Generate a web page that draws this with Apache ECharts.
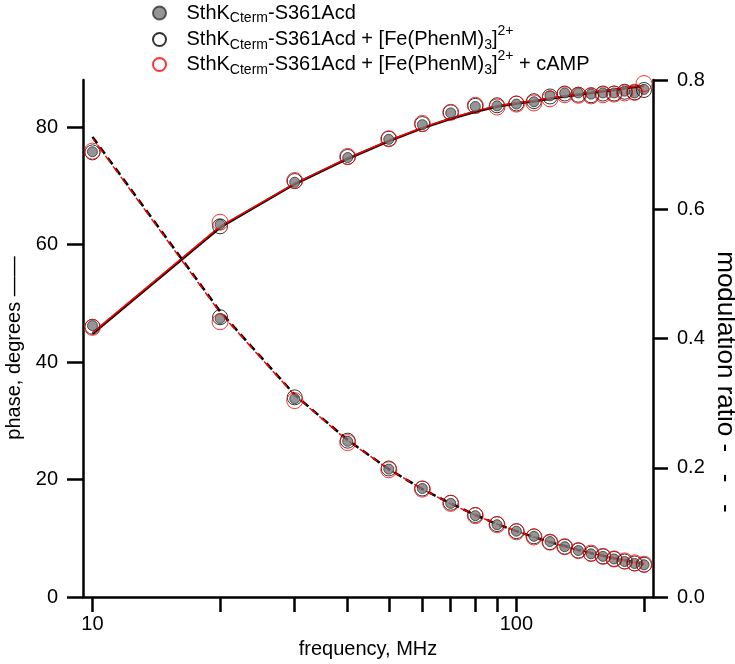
<!DOCTYPE html>
<html><head><meta charset="utf-8">
<script src="https://cdn.jsdelivr.net/npm/echarts@6/dist/echarts.min.js"></script>
<style>html,body{margin:0;padding:0;background:#fff}#c{width:735px;height:664px}</style>
</head><body><div id="c"></div>
<script>
// frequencies (MHz)
const freq = [10,20,30,40,50,60,70,80,90,100,110,120,130,140,150,160,170,180,190,200];
// phase (degrees)
const phaseGray  = [46.2,63.4,70.6,74.8,77.9,80.4,82.4,83.5,83.6,83.9,84.3,85.3,85.8,85.8,85.6,85.8,85.8,86.1,85.8,86.4];
const phaseBlack = [46.0,63.1,70.8,74.9,78.0,80.5,82.5,83.6,83.7,84.0,84.4,85.2,85.7,85.5,85.4,85.7,85.7,86.0,85.9,86.3];
const phaseRed   = [45.9,63.8,70.9,75.0,78.0,80.6,82.5,83.7,83.4,83.9,84.1,84.8,85.5,85.4,85.3,85.5,85.6,85.8,85.9,87.4];
// modulation ratio
const modGray  = [0.689,0.431,0.307,0.241,0.198,0.168,0.145,0.126,0.112,0.102,0.094,0.086,0.078,0.072,0.067,0.063,0.059,0.055,0.052,0.050];
const modBlack = [0.688,0.433,0.309,0.242,0.199,0.168,0.146,0.127,0.113,0.102,0.094,0.085,0.078,0.072,0.067,0.063,0.059,0.055,0.052,0.050];
const modRed   = [0.690,0.426,0.304,0.239,0.197,0.167,0.145,0.126,0.112,0.101,0.093,0.085,0.078,0.072,0.068,0.063,0.059,0.056,0.053,0.051];
// fitted curves
const phaseFitBlack = [44.8,62.9,70.3,74.6,77.6,79.8,81.4,82.6,83.5,84.0,84.4,84.8,85.2,85.5,85.8,86.1,86.3,86.6,86.8,87.0];
const phaseFitRed   = [45.0,63.1,70.4,74.7,77.7,79.9,81.5,82.7,83.6,84.1,84.5,84.9,85.3,85.6,85.9,86.2,86.4,86.7,86.9,87.1];
const modFitBlack = [0.712,0.442,0.313,0.243,0.198,0.167,0.145,0.127,0.113,0.102,0.093,0.085,0.079,0.073,0.068,0.064,0.060,0.057,0.054,0.051];
const modFitRed   = [0.710,0.440,0.312,0.242,0.198,0.167,0.144,0.127,0.113,0.102,0.093,0.085,0.078,0.073,0.068,0.064,0.060,0.057,0.054,0.051];
// ticks
const xTicks = [10,20,30,40,50,60,70,80,90,100,200];
const xLabels = [10,100];
const leftTicks = [0,20,40,60,80];
const rightTicks = [0,0.2,0.4,0.6,0.8];

const names = ['gray','black','red'];
const legendText = {
  gray: '{n|SthK}{s|Cterm}{n|-S361Acd}',
  black: '{n|SthK}{s|Cterm}{n|-S361Acd + [Fe(PhenM)}{s|3}{n|]}{p|2+}',
  red: '{n|SthK}{s|Cterm}{n|-S361Acd + [Fe(PhenM)}{s|3}{n|]}{p|2+}{n| + cAMP}'
};
const FONT = 'Liberation Sans';
const FS = 20;
const rich = {
  n: {fontSize: FS, fontFamily: FONT, color: '#000'},
  s: {fontSize: 14, fontFamily: FONT, color: '#000', padding: [11,0,0,0]},
  p: {fontSize: 14, fontFamily: FONT, color: '#000', padding: [0,0,17,0]}
};
const zip = (a) => freq.map((f,i) => [f, a[i]]);

const styles = {
  gray: {symbolSize: 10, itemStyle: {color: '#7a7a7a', borderColor: '#333', borderWidth: 1}},
  black: {symbolSize: 15, itemStyle: {color: 'rgba(255,255,255,0)', borderColor: '#000', borderWidth: 1}},
  red: {symbolSize: 16, itemStyle: {color: 'rgba(255,255,255,0)', borderColor: '#ff0000', borderWidth: 1}}
};
const scat = (name, data, yIdx, z) => Object.assign({
  type: 'scatter', name, data: zip(data), yAxisIndex: yIdx, symbol: 'circle', z
}, styles[name]);
const line = (data, yIdx, color, width, dash, offset) => ({
  type: 'line', data: zip(data), yAxisIndex: yIdx, showSymbol: false, symbol: 'none', silent: true, z: 2,
  lineStyle: {color, width, type: dash ? [8,5] : 'solid', dashOffset: offset || 0}
});

const legends = names.map((nm, i) => ({
  data: [{name: nm, icon: 'circle'}],
  left: 152, top: [3, 24, 49][i], padding: 0,
  itemWidth: 44, itemHeight: 13,
  formatter: (n) => legendText[n],
  textStyle: {rich, fontSize: FS, fontFamily: FONT},
  selectedMode: false
}));

const axisLineStyle = {color: '#000', width: 2.5};
const chart = echarts.init(document.getElementById('c'), null, {renderer: 'canvas'});
chart.setOption({
  animation: false,
  textStyle: {fontFamily: FONT},
  legend: legends,
  grid: {left: 83, right: 82, top: 80, bottom: 57, containLabel: false},
  xAxis: {
    type: 'log', min: 9.5, max: 210, logBase: 10,
    axisLine: {show: true, onZero: false, lineStyle: axisLineStyle},
    axisTick: {show: true, length: 15, inside: false, lineStyle: {color: '#000', width: 2.5}, customValues: xTicks},
    axisLabel: {customValues: xLabels, fontSize: FS, color: '#000', fontFamily: FONT, margin: 17},
    splitLine: {show: false}, minorTick: {show: false},
    name: 'frequency, MHz', nameLocation: 'middle', nameGap: 35,
    nameTextStyle: {fontSize: FS, color: '#000', fontFamily: FONT}
  },
  yAxis: [{
    type: 'value', min: 0, max: 88, position: 'left',
    axisLine: {show: true, lineStyle: axisLineStyle}, splitLine: {show: false},
    axisTick: {show: true, length: 16, lineStyle: {color: '#000', width: 2.5}, customValues: leftTicks},
    axisLabel: {customValues: leftTicks, fontSize: FS, color: '#000', fontFamily: FONT, margin: 25}
  }, {
    type: 'value', min: 0, max: 0.8, position: 'right',
    axisLine: {show: true, lineStyle: axisLineStyle}, splitLine: {show: false},
    axisTick: {show: true, length: 15, lineStyle: {color: '#000', width: 2.5}, customValues: rightTicks},
    axisLabel: {customValues: rightTicks, fontSize: FS, color: '#000', fontFamily: FONT, margin: 24,
      formatter: (v) => v.toFixed(1)}
  }],
  graphic: [
    {type: 'text', x: 14, y: 348, rotation: Math.PI/2,
     style: {text: 'phase, degrees \u2014\u2014', font: FS + 'px "Liberation Sans"', fill: '#000', align: 'center', verticalAlign: 'middle'}},
    {type: 'text', x: 725, y: 382, rotation: -Math.PI/2,
     style: {text: 'modulation ratio -   -   -', font: '26px "Liberation Sans"', fill: '#000', align: 'center', verticalAlign: 'middle'}}
  ],
  series: [
    line(phaseFitBlack, 0, '#000', 2.5, false),
    line(phaseFitRed, 0, '#ff0000', 1.5, false),
    line(modFitBlack, 1, '#000', 2.5, true, 0),
    line(modFitRed, 1, '#ff0000', 1.5, true, 4),
    scat('gray', phaseGray, 0, 5), scat('gray', modGray, 1, 5),
    scat('black', phaseBlack, 0, 6), scat('black', modBlack, 1, 6),
    scat('red', phaseRed, 0, 7), scat('red', modRed, 1, 7)
  ]
});
</script></body></html>
